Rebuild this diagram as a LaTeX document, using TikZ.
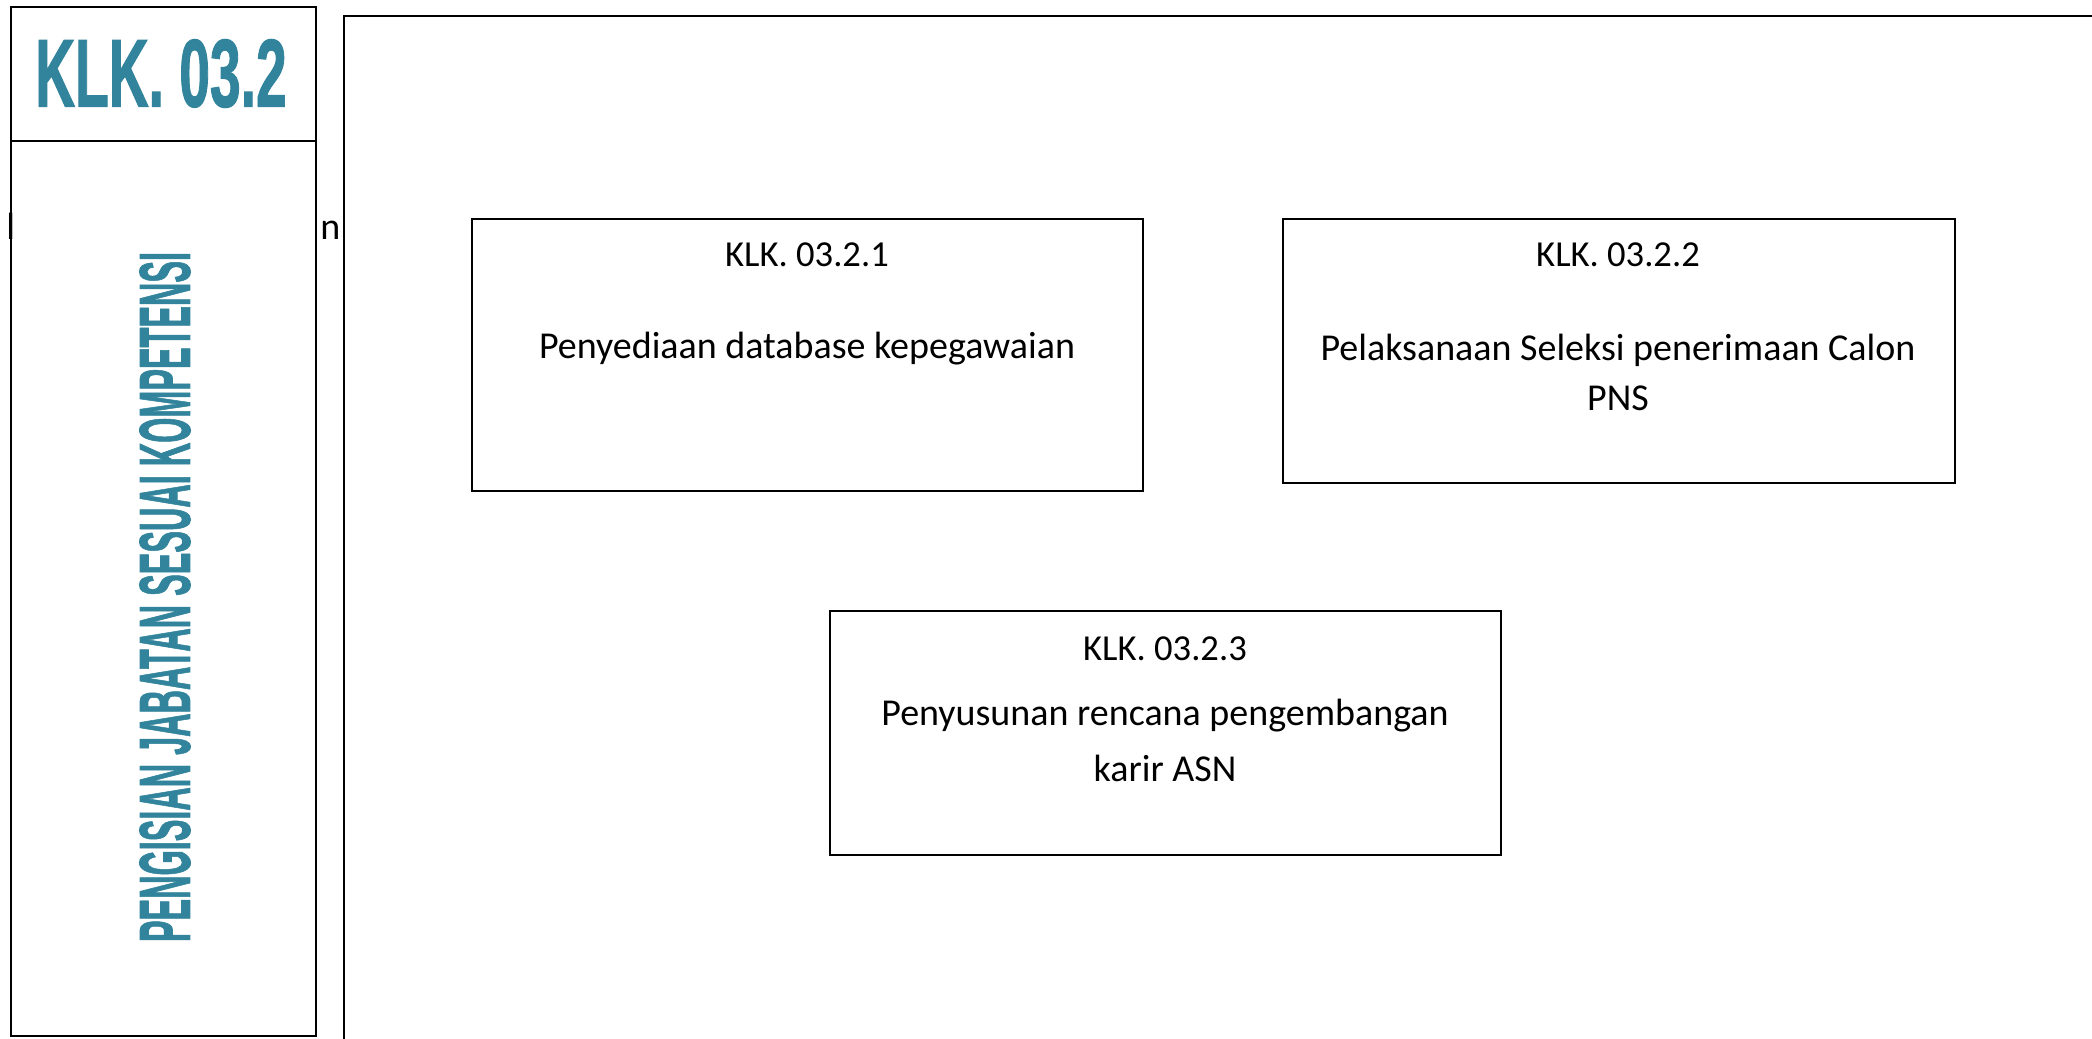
\documentclass[tikz,border=0pt]{standalone}
\usepackage{fontspec}
\usepackage{graphicx}
\setmainfont{Carlito}
\newfontfamily\headfont[FakeBold=1.5]{Liberation Sans Bold}
\definecolor{tealhead}{HTML}{31849B}
\begin{document}
\begin{tikzpicture}[x=0.5pt,y=-0.5pt,
  frame/.style={draw=black,line width=1pt},
  title/.style={font=\fontsize{18.3}{22}\selectfont,anchor=base,inner sep=0pt},
  body/.style={font=\fontsize{19}{25}\selectfont,anchor=base,inner sep=0pt,align=center},
  stray/.style={font=\fontsize{19}{22}\selectfont,anchor=base west,inner sep=0pt}]
\useasboundingbox[fill=white] (0,0) rectangle (2092,1038);

% outer frame, running past the right and bottom edges
\draw[frame] (344,1045) -- (344,16) -- (2100,16);

% left heading column
\draw[frame] (11,7) rectangle (316,1036);
\draw[frame] (11,141) -- (316,141);
\node[inner sep=0pt,text=tealhead] (head) at (161,73.5)
  {\scalebox{0.575}[1]{\headfont\fontsize{48}{48}\selectfont KLK. 03.2}};
\node[inner sep=0pt,text=tealhead,rotate=90] (vhead) at (165,597)
  {\scalebox{0.45}[1]{\headfont\fontsize{36}{36}\selectfont PENGISIAN JABATAN SESUAI KOMPETENSI}};

% letters peeking out beside the column
\node[stray] (strayl) at (6,239) {l};
\node[stray] (strayn) at (320,239) {n};

% activity boxes
\draw[frame] (472,219) rectangle (1143,491);
\node[title] (t1) at (807,266) {KLK. 03.2.1};
\node[body] (b1) at (807,358) {Penyediaan database kepegawaian};

\draw[frame] (1283,219) rectangle (1955,483);
\node[title] (t2) at (1618,266) {KLK. 03.2.2};
\node[body] (b2a) at (1618,360) {Pelaksanaan Seleksi penerimaan Calon};
\node[body] (b2b) at (1618,410) {PNS};

\draw[frame] (830,611) rectangle (1501,855);
\node[title] (t3) at (1165,660) {KLK. 03.2.3};
\node[body] (b3a) at (1165,725) {Penyusunan rencana pengembangan};
\node[body] (b3b) at (1165,781) {karir ASN};
\end{tikzpicture}
\end{document}
